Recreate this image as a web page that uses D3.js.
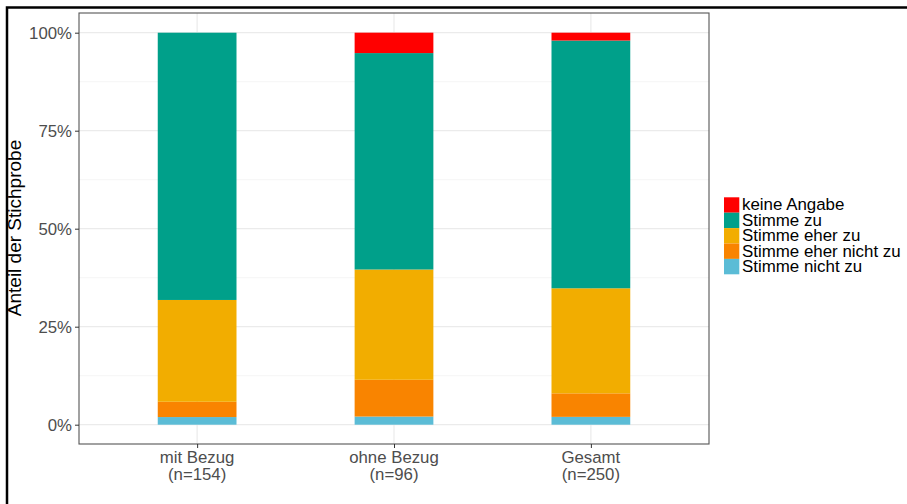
<!DOCTYPE html>
<html><head><meta charset="utf-8">
<script src="https://cdn.jsdelivr.net/npm/d3@7"></script>
<style>body{margin:0;background:#fff}svg{display:block;font-family:"Liberation Sans",Arial,sans-serif}</style>
</head><body><svg id="c" width="907" height="504"></svg>
<script>
const categories = ["mit Bezug", "ohne Bezug", "Gesamt"];
const sampleSizes = ["(n=154)", "(n=96)", "(n=250)"];
const seriesNames = ["Stimme nicht zu", "Stimme eher nicht zu", "Stimme eher zu", "Stimme zu", "keine Angabe"];
const colors = ["#5BBCD6", "#F98400", "#F2AD00", "#00A08A", "#FF0000"];
// share per category, in percent
const stimmeNichtZu      = [1.95, 2.08, 2.0];
const stimmeEherNichtZu  = [3.90, 9.38, 6.0];
const stimmeEherZu       = [25.97, 28.13, 26.8];
const stimmeZu           = [68.18, 55.21, 63.2];
const keineAngabe        = [0.0, 5.21, 2.0];
const yTicks = [0, 25, 50, 75, 100];
const yMinor = [12.5, 37.5, 62.5, 87.5];

const seriesValues = [stimmeNichtZu, stimmeEherNichtZu, stimmeEherZu, stimmeZu, keineAngabe];
const rows = categories.map((c, i) => {
  const r = {cat: c};
  seriesNames.forEach((s, j) => r[s] = seriesValues[j][i]);
  return r;
});
const stack = d3.stack().keys(seriesNames)(rows);

const svg = d3.select("#c");
const L = 79, R = 709, T = 13, B = 444;
const x = d3.scaleLinear().domain([0.4, 3.6]).range([L, R]);
const y = d3.scaleLinear().domain([0, 100]).range([424.7, 32.7]);
const bw = x(1.4) - x(1);

// outer frame
svg.append("rect").attr("x", 7).attr("y", 7.5).attr("width", 920).attr("height", 520)
  .attr("fill", "none").attr("stroke", "#000").attr("stroke-width", 2.5);

const g = svg.append("g");
// grid
g.selectAll(".mn").data(yMinor).join("line").attr("x1", L).attr("x2", R)
  .attr("y1", d => y(d)).attr("y2", d => y(d)).attr("stroke", "#f2f2f2").attr("stroke-width", 0.8);
g.selectAll(".mj").data(yTicks).join("line").attr("x1", L).attr("x2", R)
  .attr("y1", d => y(d)).attr("y2", d => y(d)).attr("stroke", "#ebebeb").attr("stroke-width", 1.2);
g.selectAll(".vx").data(categories).join("line").attr("y1", T).attr("y2", B)
  .attr("x1", (d, i) => x(i + 1)).attr("x2", (d, i) => x(i + 1)).attr("stroke", "#ebebeb").attr("stroke-width", 1.2);

// bars
stack.forEach((s, j) => {
  g.selectAll(null).data(s).join("rect")
    .attr("x", (d, i) => x(i + 1) - bw / 2).attr("width", bw)
    .attr("y", d => y(d[1])).attr("height", d => y(d[0]) - y(d[1]))
    .attr("fill", colors[j]);
});

// panel border
svg.append("rect").attr("x", L).attr("y", T).attr("width", R - L).attr("height", B - T)
  .attr("fill", "none").attr("stroke", "#555").attr("stroke-width", 1.1);

// y axis
const ya = svg.append("g").attr("transform", `translate(${L},0)`)
  .call(d3.axisLeft(y).tickValues(yTicks).tickFormat(d => d + "%").tickSize(4).tickPadding(3));
ya.select(".domain").remove();
ya.selectAll(".tick line").attr("stroke", "#333");
ya.selectAll(".tick text").attr("fill", "#4d4d4d").style("font-size", "16.8px").attr("font-family", null);

// x axis
const xa = svg.append("g").attr("transform", `translate(0,${B})`)
  .call(d3.axisBottom(x).tickValues([1, 2, 3]).tickFormat("").tickSize(4));
xa.select(".domain").remove();
xa.selectAll(".tick line").attr("stroke", "#333");
categories.forEach((c, i) => {
  const t = svg.append("text").attr("x", x(i + 1)).attr("text-anchor", "middle")
    .attr("fill", "#4d4d4d").style("font-size", "16.8px");
  t.append("tspan").attr("x", x(i + 1)).attr("y", 462.5).text(c);
  t.append("tspan").attr("x", x(i + 1)).attr("y", 480).text(sampleSizes[i]);
});

// y title
svg.append("text").attr("transform", "translate(21,228) rotate(-90)").attr("text-anchor", "middle")
  .attr("fill", "#000").style("font-size", "19px").text("Anteil der Stichprobe");

// legend
const legOrder = [4, 3, 2, 1, 0];
const lg = svg.append("g");
legOrder.forEach((j, k) => {
  const yy = 197.3 + k * 15.4;
  lg.append("rect").attr("x", 724).attr("y", yy).attr("width", 15.3).attr("height", 15.4).attr("fill", colors[j]);
  lg.append("text").attr("x", 742).attr("y", yy + 13).attr("fill", "#000").style("font-size", "16.9px").text(seriesNames[j]);
});
</script></body></html>
